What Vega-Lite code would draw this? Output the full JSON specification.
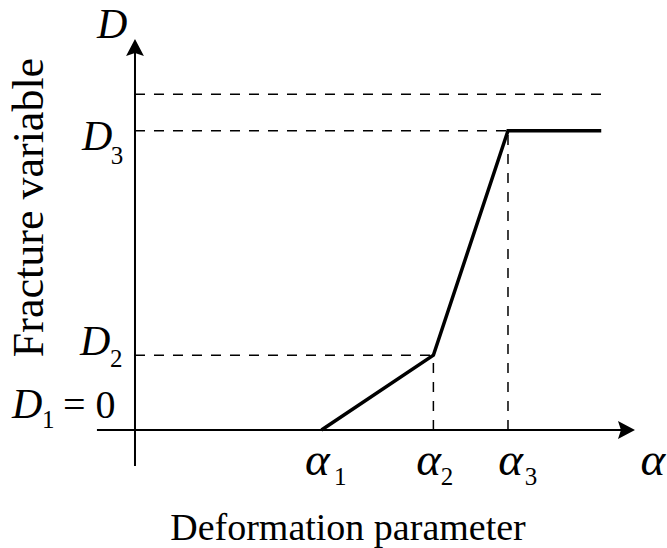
{
  "$schema": "https://vega.github.io/schema/vega-lite/v6.json",
  "width": 667,
  "height": 548,
  "autosize": "none",
  "padding": 0,
  "background": "white",
  "config": {"view": {"stroke": null}},
  "datasets": {
    "segs": [
      {"x": 0, "y": -0.96, "x2": 0, "y2": 10.15, "kind": "axis"},
      {"x": -1.02, "y": 0, "x2": 13.1, "y2": 0, "kind": "axis"},
      {"x": 0, "y": 8.98, "x2": 12.5, "y2": 8.98, "kind": "dash"},
      {"x": 0, "y": 8, "x2": 10, "y2": 8, "kind": "dash"},
      {"x": 0, "y": 2, "x2": 8, "y2": 2, "kind": "dash"},
      {"x": 8, "y": 0, "x2": 8, "y2": 2, "kind": "dash"},
      {"x": 10, "y": 0, "x2": 10, "y2": 8, "kind": "dash"}
    ],
    "curve": [
      {"x": 5, "y": 0},
      {"x": 8, "y": 2},
      {"x": 10, "y": 8},
      {"x": 12.5, "y": 8}
    ],
    "arrows": [
      {"x": 0, "y": 10.227, "dir": 0},
      {"x": 13.177, "y": 0, "dir": 90}
    ],
    "labels": [
      {"x": -1.019, "y": 10.48, "text": "D", "kind": "italic"},
      {"x": -1.421, "y": 7.487, "text": "D", "kind": "italic"},
      {"x": -0.65, "y": 7.12, "text": "3", "kind": "sub"},
      {"x": -1.475, "y": 2.005, "text": "D", "kind": "italic"},
      {"x": -0.67, "y": 1.684, "text": "2", "kind": "sub"},
      {"x": -3.298, "y": 0.321, "text": "D", "kind": "italic"},
      {"x": -2.493, "y": 0.053, "text": "1", "kind": "sub"},
      {"x": -1.93, "y": 0.321, "text": "= 0", "kind": "plain"},
      {"x": 4.56, "y": -1.203, "text": "α", "kind": "greek"},
      {"x": 5.335, "y": -1.471, "text": "1", "kind": "sub"},
      {"x": 7.54, "y": -1.203, "text": "α", "kind": "greek"},
      {"x": 8.2, "y": -1.471, "text": "2", "kind": "sub"},
      {"x": 9.74, "y": -1.203, "text": "α", "kind": "greek"},
      {"x": 10.45, "y": -1.471, "text": "3", "kind": "sub"},
      {"x": 13.55, "y": -1.203, "text": "α", "kind": "greek"},
      {"x": 5.71, "y": -2.941, "text": "Deformation parameter", "kind": "title"},
      {"x": -2.466, "y": 5.949, "text": "Fracture variable", "kind": "vtitle"}
    ]
  },
  "encoding": {
    "x": {"field": "x", "type": "quantitative", "scale": {"domain": [-3.619, 14.263], "nice": false, "zero": false}, "axis": null},
    "y": {"field": "y", "type": "quantitative", "scale": {"domain": [-3.155, 11.497], "nice": false, "zero": false}, "axis": null}
  },
  "layer": [
    {
      "data": {"name": "segs"},
      "transform": [{"filter": "datum.kind === 'dash'"}],
      "mark": {"type": "rule", "color": "black", "strokeWidth": 1.5, "strokeDash": [10, 9]},
      "encoding": {"x2": {"field": "x2"}, "y2": {"field": "y2"}}
    },
    {
      "data": {"name": "segs"},
      "transform": [{"filter": "datum.kind === 'axis'"}],
      "mark": {"type": "rule", "color": "black", "strokeWidth": 2},
      "encoding": {"x2": {"field": "x2"}, "y2": {"field": "y2"}}
    },
    {
      "data": {"name": "curve"},
      "mark": {"type": "line", "color": "black", "strokeWidth": 3.5, "strokeJoin": "miter"},
      "encoding": {"order": {"field": "x", "type": "quantitative"}}
    },
    {
      "data": {"name": "arrows"},
      "mark": {"type": "point", "filled": true, "color": "black", "opacity": 1, "size": 289, "shape": "M0,-1L1.05,1L0,0.65L-1.05,1Z"},
      "encoding": {"angle": {"field": "dir", "type": "quantitative", "scale": null}}
    },
    {
      "data": {"name": "labels"},
      "transform": [{"filter": "datum.kind === 'italic'"}],
      "mark": {"type": "text", "font": "Liberation Serif", "fontStyle": "italic", "fontSize": 42, "align": "left", "baseline": "alphabetic", "color": "black"},
      "encoding": {"text": {"field": "text"}}
    },
    {
      "data": {"name": "labels"},
      "transform": [{"filter": "datum.kind === 'greek'"}],
      "mark": {"type": "text", "font": "Liberation Serif", "fontStyle": "italic", "fontSize": 47, "align": "left", "baseline": "alphabetic", "color": "black"},
      "encoding": {"text": {"field": "text"}}
    },
    {
      "data": {"name": "labels"},
      "transform": [{"filter": "datum.kind === 'sub'"}],
      "mark": {"type": "text", "font": "Liberation Serif", "fontSize": 25, "align": "left", "baseline": "alphabetic", "color": "black"},
      "encoding": {"text": {"field": "text"}}
    },
    {
      "data": {"name": "labels"},
      "transform": [{"filter": "datum.kind === 'plain'"}],
      "mark": {"type": "text", "font": "Liberation Serif", "fontSize": 40, "align": "left", "baseline": "alphabetic", "color": "black"},
      "encoding": {"text": {"field": "text"}}
    },
    {
      "data": {"name": "labels"},
      "transform": [{"filter": "datum.kind === 'title'"}],
      "mark": {"type": "text", "font": "Liberation Serif", "fontSize": 38, "align": "center", "baseline": "alphabetic", "color": "black"},
      "encoding": {"text": {"field": "text"}}
    },
    {
      "data": {"name": "labels"},
      "transform": [{"filter": "datum.kind === 'vtitle'"}],
      "mark": {"type": "text", "font": "Liberation Serif", "fontSize": 44, "angle": 270, "align": "center", "baseline": "alphabetic", "color": "black"},
      "encoding": {"text": {"field": "text"}}
    }
  ]
}
